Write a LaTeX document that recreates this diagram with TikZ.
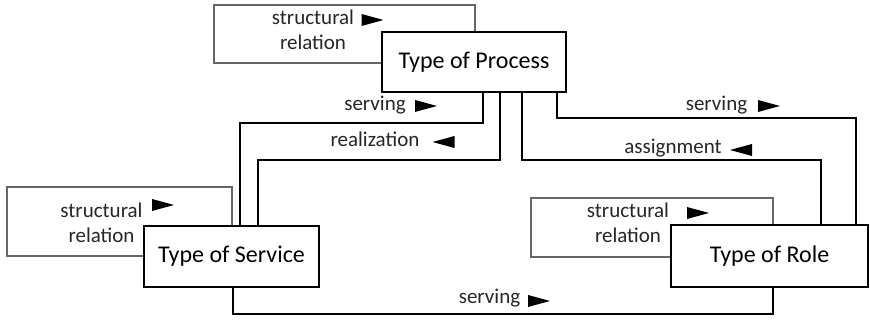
\documentclass[tikz,border=0pt]{standalone}
\usepackage{fontspec}
\setmainfont{Carlito}
\usetikzlibrary{positioning,calc}
\tikzset{
  typebox/.style={rectangle, draw, line width=1.6pt, fill=white, inner sep=0pt,
                  font=\fontsize{24}{28}\selectfont},
  relbox/.style={rectangle, draw=black!60, line width=1.1pt, inner sep=0pt},
  lbl/.style={inner sep=0pt, font=\fontsize{21}{25}\selectfont, text=black!85},
  conn/.style={line width=1.6pt},
  rtri/.pic={\fill (-11,-6) -- (11,0) -- (-11,6) -- cycle;},
  ltri/.pic={\fill (11,-6) -- (-11,0) -- (11,6) -- cycle;}
}

\begin{document}
\begin{tikzpicture}[x=1pt, y=1pt]
  \useasboundingbox (0,0) rectangle (870,320);
  % background boxes for the structural relations
  \node[relbox, minimum width=261pt, minimum height=58pt] (relP) at (344.5,286) {};
  \node[relbox, minimum width=225pt, minimum height=69pt] (relS) at (119.5,98.5) {};
  \node[relbox, minimum width=242pt, minimum height=59pt] (relR) at (652,92.5) {};
  \node[lbl, align=center] (relPt) at (313,290) {structural\\relation};
  \node[lbl, align=center] (relSt) at (101.5,97.5) {structural\\relation};
  \node[lbl, align=center] (relRt) at (628,97.5) {structural\\relation};
  \pic at (372.5,300) {rtri};
  \pic at (163,115) {rtri};
  \pic at (698,107) {rtri};
  % the three types
  \node[typebox, minimum width=184pt, minimum height=60pt] (process) at (474,258) {Type of Process};
  \node[typebox, minimum width=175pt, minimum height=61pt] (service) at (231.5,63.5) {Type of Service};
  \node[typebox, minimum width=197pt, minimum height=62pt] (role) at (769.5,64) {Type of Role};
  % connectors
  \draw[conn] ([xshift=9pt]process.south) -- ++(0,-30) -| ([xshift=8.5pt]service.north);
  \draw[conn] ([xshift=26pt]process.south) -- ++(0,-67) -| ([xshift=26.5pt]service.north);
  \draw[conn] ([xshift=48pt]process.south) -- ++(0,-67) -| ([xshift=51.5pt]role.north);
  \draw[conn] ([xshift=83pt]process.south) -- ++(0,-25) -| ([xshift=86.5pt]role.north);
  \draw[conn] ([xshift=1.5pt]service.south) -- ++(0,-26) -| ([xshift=3.5pt]role.south);
  % connector labels
  \node[lbl] (servPS) at (375,215) {serving};
  \pic at (426,214) {rtri};
  \node[lbl] (realPS) at (375,181) {realization};
  \pic at (443.5,178) {ltri};
  \node[lbl] (servPR) at (716.5,215) {serving};
  \pic at (769,214) {rtri};
  \node[lbl] (assPR) at (673,172) {assignment};
  \pic at (741,170) {ltri};
  \node[lbl] (servSR) at (489.5,22) {serving};
  \pic at (539,19) {rtri};
\end{tikzpicture}
\end{document}
